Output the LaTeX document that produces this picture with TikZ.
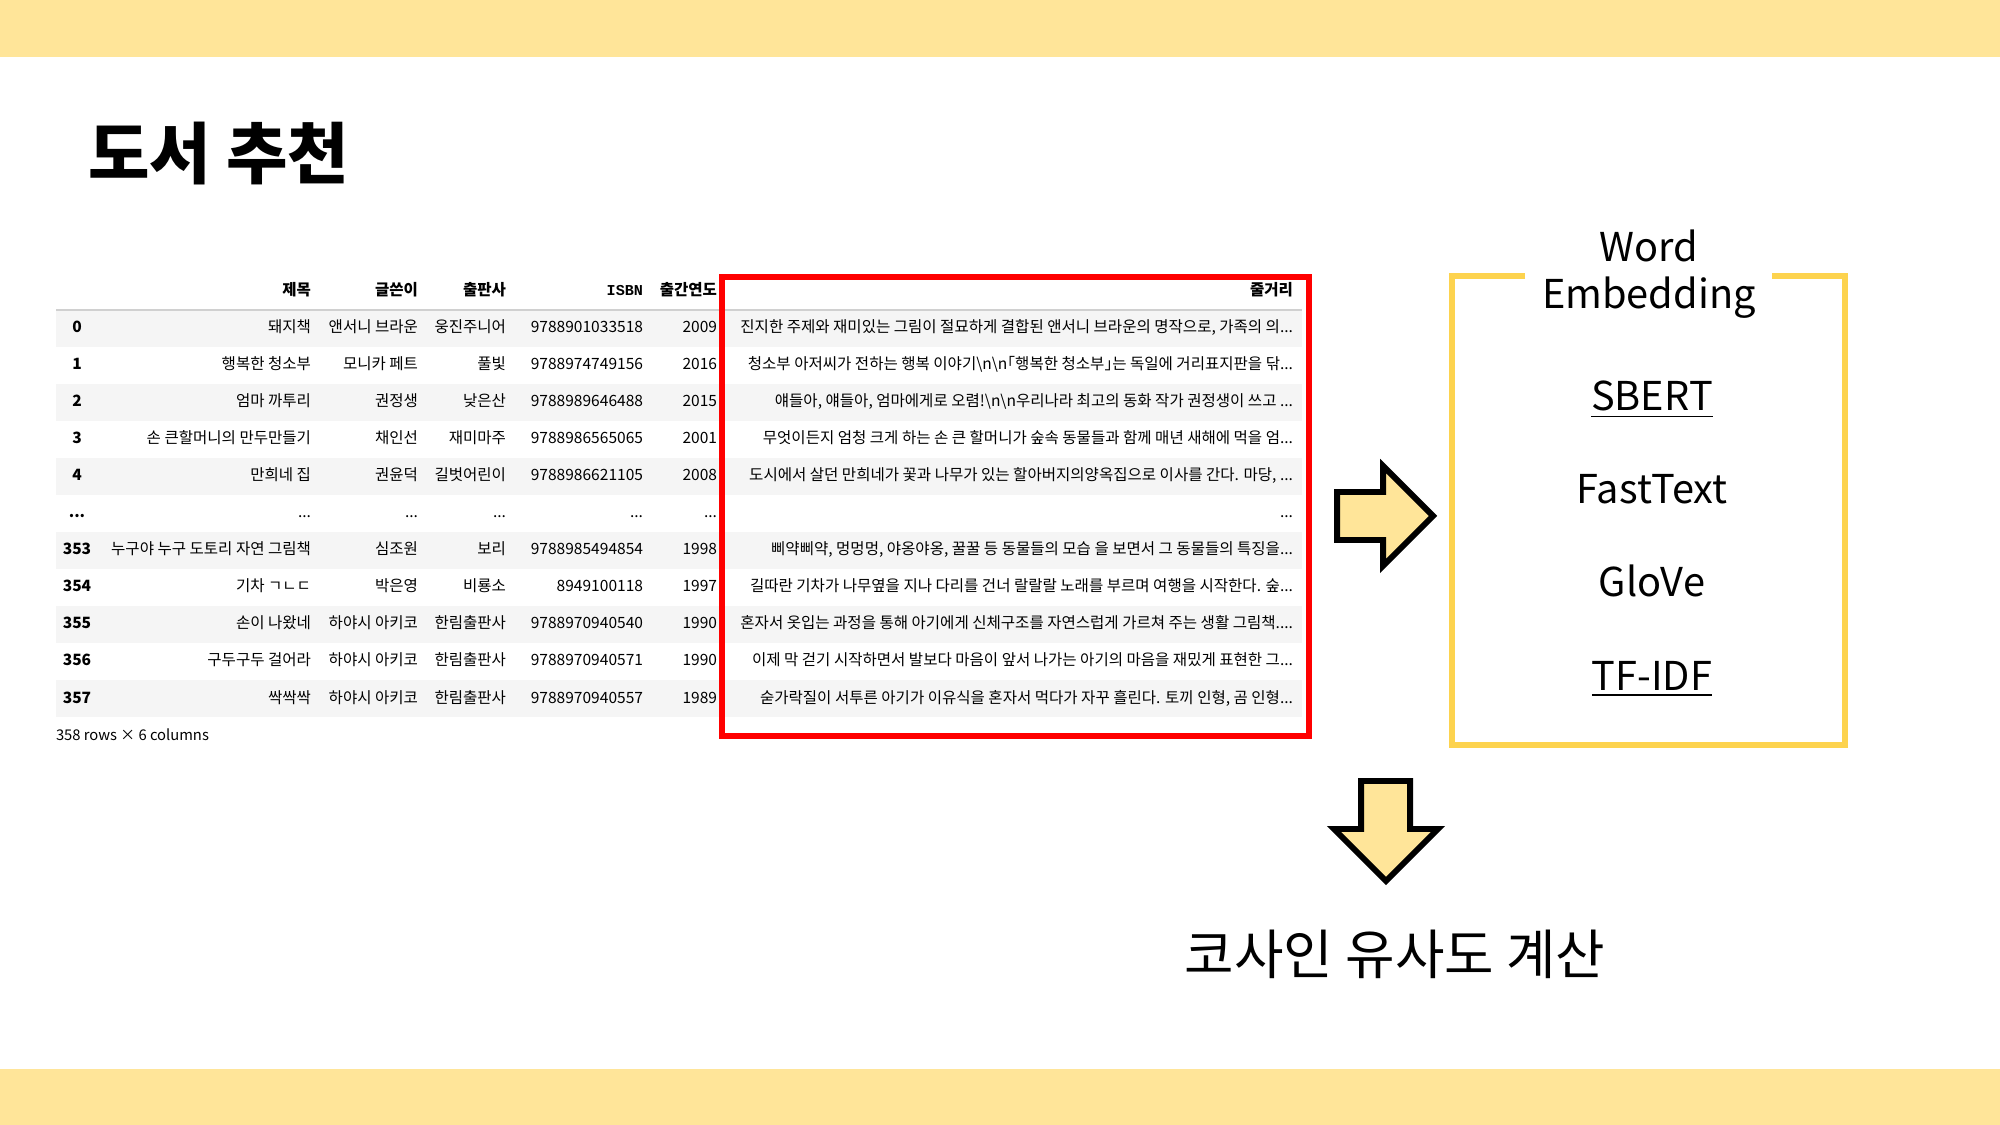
\documentclass[tikz,border=0pt]{standalone}
\usepackage{fontspec}
\setmainfont{Noto Sans CJK KR}
\newfontfamily\isbnfont{Liberation Mono}
\usetikzlibrary{positioning}
\definecolor{bandyellow}{HTML}{FFE599}
\definecolor{boxyellow}{HTML}{FDD34E}
\definecolor{rowgray}{HTML}{F5F5F5}
\definecolor{rulegray}{HTML}{D0D0D0}
\newcommand\cutoff{...}

\begin{document}
\begin{tikzpicture}[x=0.01cm,y=-0.01cm,inner sep=0pt,outer sep=0pt,
cell/.style={anchor=base east,font=\fontsize{4.42pt}{5.5pt}\selectfont},
headcell/.style={cell,font=\fontsize{4.42pt}{5.5pt}\selectfont\bfseries},
indexcell/.style={anchor=base,font=\fontsize{4.42pt}{5.5pt}\selectfont\bfseries},
model/.style={anchor=base,font=\fontsize{11.3pt}{13pt}\selectfont},
blockarrow/.style={draw,fill=bandyellow,line width=1.7pt,miter limit=20}]

\useasboundingbox (0,0) rectangle (2000,1125);
\fill[white] (0,0) rectangle (2000,1125);
\fill[bandyellow] (0,0) rectangle (2000,57);
\fill[bandyellow] (0,1069) rectangle (2000,1125);

\draw (88,179) node[anchor=base west,font=\fontsize{19pt}{22pt}\selectfont\bfseries] (title) {도서 추천};

\foreach \k in {0,2,4,6,8,10}
  \fill[rowgray] (56,{310+37*\k}) rectangle (1302,{347+37*\k});
\draw[rulegray,line width=0.6pt] (56,310) -- (1302,310);

\draw (311,296) node[headcell] (httl) {제목};
\draw (418,296) node[headcell] (hwri) {글쓴이};
\draw (506,296) node[headcell] (hpub) {출판사};
\draw (643,296) node[headcell,font=\fontsize{4.3pt}{5pt}\isbnfont\bfseries] (hisbn) {ISBN};
\draw (717,296) node[headcell] (hyr) {출간연도};
\draw (1293,296) node[headcell] (hstory) {줄거리};

\foreach \k/\idx/\ttl/\wri/\pub/\isbn/\yr/\story in {
0/0/돼지책/앤서니 브라운/웅진주니어/9788901033518/2009/{진지한 주제와 재미있는 그림이 절묘하게 결합된 앤서니 브라운의 명작으로, 가족의 의\cutoff},
1/1/행복한 청소부/모니카 페트/풀빛/9788974749156/2016/{청소부 아저씨가 전하는 행복 이야기\textbackslash n\textbackslash n｢행복한 청소부｣는 독일에 거리표지판을 닦\cutoff},
2/2/엄마 까투리/권정생/낮은산/9788989646488/2015/{얘들아, 얘들아, 엄마에게로 오렴!\textbackslash n\textbackslash n우리나라 최고의 동화 작가 권정생이 쓰고 \cutoff},
3/3/손 큰할머니의 만두만들기/채인선/재미마주/9788986565065/2001/{무엇이든지 엄청 크게 하는 손 큰 할머니가 숲속 동물들과 함께 매년 새해에 먹을 엄\cutoff},
4/4/만희네 집/권윤덕/길벗어린이/9788986621105/2008/{도시에서 살던 만희네가 꽃과 나무가 있는 할아버지의양옥집으로 이사를 간다. 마당, \cutoff},
5/\cutoff/\cutoff/\cutoff/\cutoff/\cutoff/\cutoff/\cutoff,
6/353/누구야 누구 도토리 자연 그림책/심조원/보리/9788985494854/1998/{삐약삐약, 멍멍멍, 야옹야옹, 꿀꿀 등 동물들의 모습 을 보면서 그 동물들의 특징을\cutoff},
7/354/기차 ㄱㄴㄷ/박은영/비룡소/8949100118/1997/{길따란 기차가 나무옆을 지나 다리를 건너 랄랄랄 노래를 부르며 여행을 시작한다. 숲\cutoff},
8/355/손이 나왔네/하야시 아키코/한림출판사/9788970940540/1990/{혼자서 옷입는 과정을 통해 아기에게 신체구조를 자연스럽게 가르쳐 주는 생활 그림책.\cutoff},
9/356/구두구두 걸어라/하야시 아키코/한림출판사/9788970940571/1990/{이제 막 걷기 시작하면서 발보다 마음이 앞서 나가는 아기의 마음을 재밌게 표현한 그\cutoff},
10/357/싹싹싹/하야시 아키코/한림출판사/9788970940557/1989/{숟가락질이 서투른 아기가 이유식을 혼자서 먹다가 자꾸 흘린다. 토끼 인형, 곰 인형\cutoff}}
{
\draw (77,{333+37*\k}) node[indexcell] (idx\k) {\idx};
\draw (311,{333+37*\k}) node[cell] (ttl\k) {\ttl};
\draw (418,{333+37*\k}) node[cell] (wri\k) {\wri};
\draw (506,{333+37*\k}) node[cell] (pub\k) {\pub};
\draw (643,{333+37*\k}) node[cell] (isbn\k) {\isbn};
\draw (717,{333+37*\k}) node[cell] (yr\k) {\yr};
\draw (1293,{333+37*\k}) node[cell] (story\k) {\story};
}
\draw (56,740) node[anchor=base west,font=\fontsize{4.2pt}{5pt}\selectfont] (shape) {358 rows × 6 columns};

\draw[red,line width=1.5pt] (722,277) rectangle (1309,736);

\draw[blockarrow] (1337,492) -- (1383,492) -- (1383,466) -- (1433,516) -- (1383,566) -- (1383,540) -- (1337,540) -- cycle;

\draw[boxyellow,line width=1.5pt] (1525,276) -- (1452,276) -- (1452,745) -- (1845,745) -- (1845,276) -- (1772,276);
\draw (1649,262) node[model] (word) {Word};
\draw (1649,309) node[model] (embed) {Embedding};
\draw (1652,411) node[model] (sbert) {\underline{SBERT}};
\draw (1652,504) node[model] (fasttext) {FastText};
\draw (1652,597) node[model] (glove) {GloVe};
\draw (1652,690) node[model] (tfidf) {\underline{TF-IDF}};

\draw[blockarrow] (1361,781) -- (1361,829) -- (1334,829) -- (1386,881) -- (1438,829) -- (1410,829) -- (1410,781) -- cycle;

\draw (1395,974) node[anchor=base,font=\fontsize{15.3pt}{18pt}\selectfont] (cosine) {코사인 유사도 계산};

\end{tikzpicture}
\end{document}
